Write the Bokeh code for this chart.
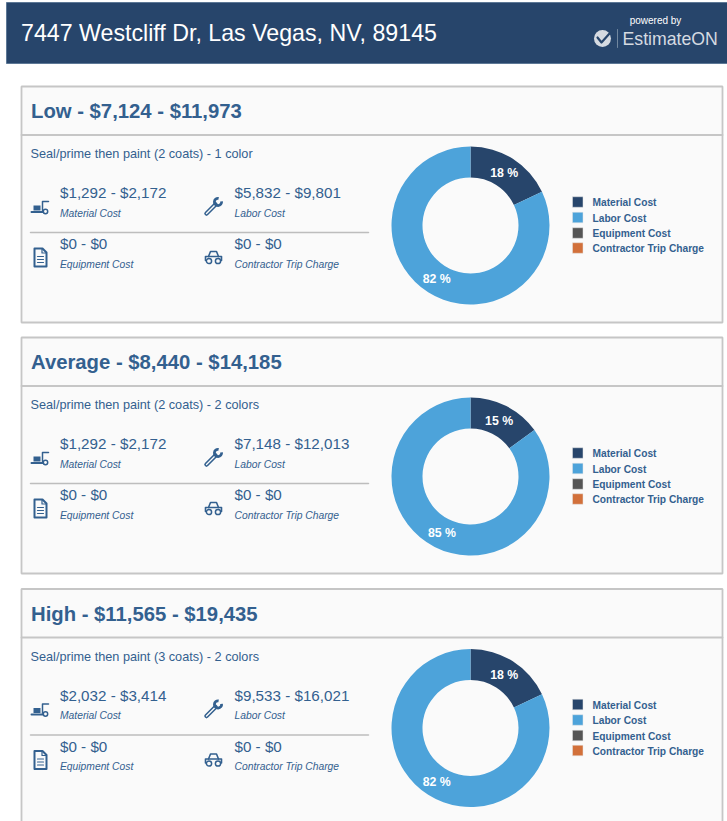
import math
from bokeh.plotting import figure
from bokeh.models import Range1d
from bokeh.core.properties import value
from bokeh.embed import file_html
from bokeh.resources import INLINE

address = "7447 Westcliff Dr, Las Vegas, NV, 89145"
tiers = ["Low", "Average", "High"]
total_low = [7124, 8440, 11565]
total_high = [11973, 14185, 19435]
descriptions = ["Seal/prime then paint (2 coats) - 1 color",
                "Seal/prime then paint (2 coats) - 2 colors",
                "Seal/prime then paint (3 coats) - 2 colors"]
material_low = [1292, 1292, 2032]
material_high = [2172, 2172, 3414]
labor_low = [5832, 7148, 9533]
labor_high = [9801, 12013, 16021]
equipment_low = [0, 0, 0]
equipment_high = [0, 0, 0]
trip_low = [0, 0, 0]
trip_high = [0, 0, 0]
material_pct = [18, 15, 18]
labor_pct = [82, 85, 82]
categories = ["Material Cost", "Labor Cost", "Equipment Cost", "Contractor Trip Charge"]
cat_colors = ["#27456b", "#4da3da", "#555555", "#d2703a"]

W, H = 727, 821
NAVY, BLUE, RULE = "#27456b", "#33608f", "#c6c6c6"
SANS = value("Liberation Sans")

p = figure(width=W, height=H, x_range=Range1d(0, W), y_range=Range1d(0, H),
           toolbar_location=None, output_backend="svg", min_border=0,
           outline_line_color=None)
p.axis.visible = False
p.grid.visible = False
p.background_fill_color = "#ffffff"
p.border_fill_color = "#ffffff"


def Y(v):
    return H - v


def txt(x, y, s, size, color=BLUE, style="normal", align="left"):
    p.text([x], [Y(y)], text=[s], text_font=SANS, text_font_size=f"{size}px",
           text_color=color, text_font_style=style, text_align=align,
           text_baseline="middle")


def box(x0, x1, y0, y1, fill, line=None, w=1.0):
    p.quad(left=[x0], right=[x1], top=[Y(y0)], bottom=[Y(y1)], fill_color=fill,
           line_color=line, line_width=w)


def ln(xs, ys, color=BLUE, w=1.5):
    p.line(xs, [Y(v) for v in ys], line_color=color, line_width=w,
           line_cap="round", line_join="round")


def forklift(x, y):
    box(x - 3, x + 4, y, y + 5, BLUE)
    ln([x - 5, x + 6, x + 8], [y + 6.5, y + 6.5, y + 5], w=2)
    ln([x + 6, x + 6, x + 12], [y + 5, y - 4, y - 4], w=1.5)
    p.circle([x + 9], [Y(y + 6)], radius=2.2, fill_color="#fafafa", line_color=BLUE, line_width=1.5)


def wrench(x, y):
    ln([x - 7, x + 2], [y + 7, y - 2], w=4.5)
    ln([x - 7, x + 2], [y + 7, y - 2], color="#fafafa", w=1.4)
    p.annular_wedge([x + 4.5], [Y(y - 4.5)], inner_radius=2.2, outer_radius=5,
                    start_angle=[math.radians(80)], end_angle=[math.radians(370)],
                    fill_color=BLUE, line_color=None)


def document(x, y):
    xs = [x - 6, x + 2, x + 6, x + 6, x - 6, x - 6]
    ys = [y - 9, y - 9, y - 5, y + 9, y + 9, y - 9]
    ln(xs, ys, w=2)
    ln([x + 1.5, x + 1.5, x + 6], [y - 9, y - 4.5, y - 4.5], w=1.2)
    for dy in (-1, 2, 5):
        ln([x - 3, x + 3], [y + dy, y + dy], w=1.2)


def car(x, y):
    ln([x - 5, x - 3, x + 3, x + 5], [y - 1, y - 6, y - 6, y - 1], w=1.6)
    ln([x - 8, x - 8, x + 8, x + 8], [y + 3, y - 1, y - 1, y + 3], w=1.6)
    for dx in (-4.5, 4.5):
        p.circle([x + dx], [Y(y + 3.5)], radius=2.6, fill_color="#fafafa", line_color=BLUE, line_width=1.5)


def money(lo, hi):
    return f"${lo:,} - ${hi:,}"


# page header
box(6, 728, 2, 63, NAVY, "#5d7896", 1)
txt(20.5, 32, address, 23.2, "#ffffff")
txt(655, 20, "powered by", 10, "#ffffff", align="center")
p.circle([602], [Y(38)], radius=8.5, fill_color="#d5dae1", line_color=None)
ln([597, 601, 609], [37, 42, 33], color=NAVY, w=2.2)
ln([617, 617], [29, 47], color="#71879f", w=1)
txt(622, 38, "EstimateON", 17.7, "#d5dae1")

offsets = [0, 251, 502.5]
for i, off in enumerate(offsets):
    bottom = min(322 + off, H + 5)
    box(21, 722, 86 + off, bottom, "#fafafa", RULE, 1.8)
    ln([21, 722], [134.5 + off, 134.5 + off], color=RULE, w=1.8)
    txt(30.5, 110.5 + off, f"{tiers[i]} - ${total_low[i]:,} - ${total_high[i]:,}", 20.3, BLUE, "bold")
    txt(30, 153.5 + off, descriptions[i], 12.7, BLUE)

    ln([30, 368], [232 + off, 232 + off], color="#bdbdbd", w=1.5)
    cells = [(59.5, 192, money(material_low[i], material_high[i]), categories[0]),
             (234, 192, money(labor_low[i], labor_high[i]), categories[1]),
             (59.5, 243, money(equipment_low[i], equipment_high[i]), categories[2]),
             (234, 243, money(trip_low[i], trip_high[i]), categories[3])]
    for cx, cy, amount, name in cells:
        txt(cx, cy + off, amount, 15.2, BLUE)
        txt(cx, cy + 20.5 + off, name, 10.3, BLUE, "italic")
    forklift(36, 205 + off)
    wrench(213, 206 + off)
    document(40, 257 + off)
    car(213, 257 + off)

    # donut
    cx, cy = 470, 225 + off
    vals = [material_pct[i], labor_pct[i]]
    acc = 0.0
    for v, col in zip(vals, cat_colors):
        a1 = math.pi / 2 - acc / 100 * 2 * math.pi
        a0 = math.pi / 2 - (acc + v) / 100 * 2 * math.pi
        p.annular_wedge([cx], [Y(cy)], inner_radius=48, outer_radius=79,
                        start_angle=[a0], end_angle=[a1], fill_color=col, line_color=None)
        mid = (a0 + a1) / 2
        txt(cx + 63 * math.cos(mid), cy - 63 * math.sin(mid) + 0.5, f"{v} %", 12.3, "#ffffff", "bold", "center")
        acc += v

    # legend
    for c, ly, col in zip(categories, (201.5, 217, 232.5, 247.5), cat_colors):
        box(572, 582.5, ly - 5.25 + off, ly + 5.25 + off, col, "#e4e4e4", 0.5)
        txt(592, ly + 0.5 + off, c, 10.2, BLUE, "bold")

open("out.html", "w").write(file_html(p, INLINE))
